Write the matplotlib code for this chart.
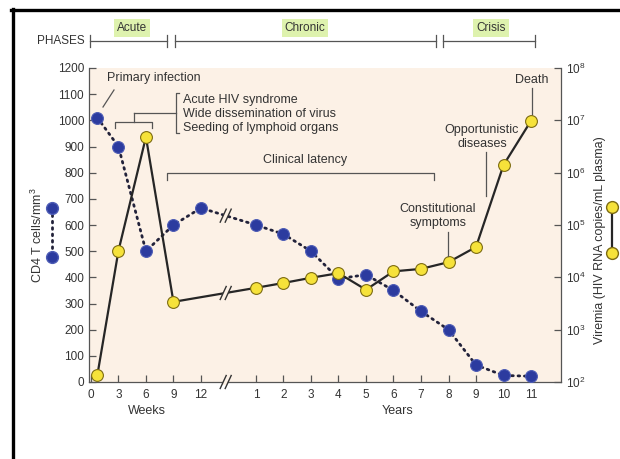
"""HIV 感染自然病程：CD4 T 细胞与病毒血症"""

import matplotlib

matplotlib.use("Agg")
import matplotlib.pyplot as plt
import numpy as np
from matplotlib.lines import Line2D
from matplotlib.patches import Polygon
from matplotlib.transforms import ScaledTranslation

plt.rcParams["font.family"] = ["Liberation Sans", "DejaVu Sans"]
plt.rcParams["mathtext.fontset"] = "custom"
plt.rcParams["mathtext.rm"] = "Liberation Sans"

# ---- data -------------------------------------------------------------
week_ticks = [0, 3, 6, 9, 12]
year_ticks = [1, 2, 3, 4, 5, 6, 7, 8, 9, 10, 11]

cd4_weeks = [0.7, 3, 6, 9, 12]
cd4_week_counts = [1010, 900, 500, 600, 665]
cd4_years = [1, 2, 3, 4, 5, 6, 7, 8, 9, 10, 11]
cd4_year_counts = [600, 565, 500, 395, 410, 350, 270, 200, 65, 25, 22]

viremia_weeks = [0.7, 3, 6, 9]
viremia_week_copies = [1.35e2, 3.2e4, 4.8e6, 3.4e3]
viremia_years = [1, 2, 3, 4, 5, 6, 7, 8, 9, 10, 11]
viremia_year_copies = [6.3e3, 7.8e3, 9.8e3, 1.2e4, 5.8e3, 1.3e4, 1.45e4,
                       1.95e4, 3.8e4, 1.4e6, 9.8e6]

phases = ["Acute", "Chronic", "Crisis"]

# ---- style --------------------------------------------------------------
W, H = 620, 459
YEAR_OFFSET = 5.0          # 周 -> 年 的断轴偏移
BREAK_AT = 4.9
BG = "#fcf1e6"
TXT = "#333333"
BLUE, BLUE_EDGE = "#2c3b9f", "#4d5cb5"
YEL, YEL_EDGE = "#f6e23a", "#7d6c12"
DOT_LINE = "#22223a"

fig = plt.figure(figsize=(W / 100, H / 100), dpi=100)


def P(x, y):
    """像素坐标 -> figure 坐标"""
    return x / W, 1 - y / H


def axis_pos(weeks, years):
    return [w / 3 for w in weeks] + [YEAR_OFFSET + y for y in years]


def fig_line(xs, ys, **kw):
    pts = [P(x, y) for x, y in zip(xs, ys)]
    kw.setdefault("color", "#555555")
    kw.setdefault("lw", 0.9)
    fig.add_artist(Line2D([p[0] for p in pts], [p[1] for p in pts],
                          transform=fig.transFigure, **kw))


def fig_text(x, y, s, **kw):
    kw.setdefault("fontsize", 9)
    kw.setdefault("color", TXT)
    kw.setdefault("va", "center")
    fig.text(*P(x, y), s, **kw)


def break_mark(ax, x, y, bg):
    """在 (x, y) 处画断轴符号 //"""
    trans = fig.dpi_scale_trans + ScaledTranslation(x, y, ax.transData)
    w, h, gap, hg = 0.03, 0.065, 0.025, 0.03
    s = w * hg / h
    ax.add_artist(Polygon([(-gap - s, -hg), (gap - s, -hg), (gap + s, hg), (-gap + s, hg)],
                          closed=True, transform=trans, fc=bg, ec="none",
                          zorder=6, clip_on=False))
    for dx in (-gap, gap):
        ax.add_artist(Line2D([dx - w, dx + w], [-h, h], transform=trans,
                             color="#333333", lw=1.0, zorder=7, clip_on=False))


l, r, b, t = 89, 561, 382, 68
ax = fig.add_axes([l / W, 1 - b / H, (r - l) / W, (b - t) / H])
ax.set_facecolor(BG)
ax2 = ax.twinx()

cd4_x = axis_pos(cd4_weeks, cd4_years)
cd4_y = cd4_week_counts + cd4_year_counts
vir_x = axis_pos(viremia_weeks, viremia_years)
vir_y = viremia_week_copies + viremia_year_copies

ax.plot(cd4_x, cd4_y, color=DOT_LINE, lw=2.0, ls=(0, (0.6, 1.7)),
        dash_capstyle="round", zorder=3)
ax.plot(cd4_x, cd4_y, ls="none", marker="o", ms=8.5, mfc=BLUE, mec=BLUE_EDGE,
        mew=0.8, zorder=4)

ax2.plot(vir_x, vir_y, color="#262626", lw=1.6, zorder=3)
ax2.plot(vir_x, vir_y, ls="none", marker="o", ms=8.5, mfc=YEL, mec=YEL_EDGE,
         mew=0.8, zorder=4)

ax.set_xlim(-0.07, 17.09)
ax.set_ylim(0, 1200)
ax2.set_yscale("log")
ax2.set_ylim(1e2, 1e8)

# 断轴标记
break_mark(ax, BREAK_AT, np.interp(BREAK_AT, cd4_x, cd4_y), BG)
vir_break = 10 ** np.interp(BREAK_AT, vir_x, np.log10(vir_y))
break_mark(ax2, BREAK_AT, vir_break, BG)
break_mark(ax, BREAK_AT, 0, BG)

# 坐标轴
ax.set_xticks(axis_pos(week_ticks, year_ticks))
ax.set_xticklabels([str(v) for v in week_ticks + year_ticks])
ax.set_yticks(np.arange(0, 1201, 100))
ax2.set_yticks([10.0 ** k for k in range(2, 9)])
ax2.set_yticklabels([rf"$10^{{{k}}}$" for k in range(2, 9)])
ax2.minorticks_off()

for a in (ax, ax2):
    a.tick_params(direction="in", length=5, width=0.9, colors="#555555",
                  labelcolor=TXT, labelsize=8.5)
ax.tick_params(axis="x", pad=5)
ax.spines["top"].set_visible(False)
ax.spines["right"].set_visible(False)
for side in ("top", "bottom", "left"):
    ax2.spines[side].set_visible(False)
for sp in (ax.spines["left"], ax.spines["bottom"], ax2.spines["right"]):
    sp.set_color("#555555")
    sp.set_linewidth(0.9)

fig_text(147, 411, "Weeks", ha="center")
fig_text(398, 411, "Years", ha="center")

# 轴标题与图例符号
fig_text(37, 235, "CD4 T cells/mm$^3$", ha="center", rotation=90)
fig_text(600, 240, "Viremia (HIV RNA copies/mL plasma)", ha="center", rotation=90)
fig_line([52, 52], [208, 257], color=DOT_LINE, lw=2.0, ls=(0, (0.6, 1.7)),
         dash_capstyle="round", marker="o", ms=8.5, mfc=BLUE, mec=BLUE_EDGE)
fig_line([612, 612], [207, 253], color="#262626", lw=1.6, marker="o", ms=8.5,
         mfc=YEL, mec=YEL_EDGE)

# PHASES 条
fig_text(85, 41, "PHASES", ha="right", fontsize=8.5)
for (x0, x1), name, cx in zip([(90, 167), (175, 436), (443, 535)], phases,
                              [132, 305, 491]):
    fig_line([x0, x1], [41, 41], color="#555555", lw=0.9)
    fig_line([x0, x0], [35, 47], color="#555555", lw=0.9)
    fig_line([x1, x1], [35, 47], color="#555555", lw=0.9)
    fig_text(cx, 28, name, ha="center", fontsize=8.5,
             bbox=dict(fc="#def2ae", ec="none", pad=2))

# 注释
fig_text(107, 78, "Primary infection")
fig_line([103, 114], [107, 90])
fig_text(183, 114, "Acute HIV syndrome\nWide dissemination of virus\nSeeding of lymphoid organs",
         linespacing=1.25)
fig_line([179, 176, 176, 179], [93, 93, 133, 133])
fig_line([134, 176], [113, 113])
fig_line([134, 134], [113, 122])
fig_line([115, 115, 152, 152], [128, 122, 122, 128])

fig_text(305, 160, "Clinical latency", ha="center")
fig_line([167, 167, 434, 434], [180, 173, 173, 180])

fig_text(438, 216, "Constitutional\nsymptoms", ha="center", multialignment="center",
         linespacing=1.15)
fig_line([448, 448], [232, 256])

fig_text(482, 137, "Opportunistic\ndiseases", ha="center", multialignment="center",
         linespacing=1.15)
fig_line([486, 486], [152, 196])

fig_text(532, 80, "Death", ha="center")
fig_line([532, 532], [88, 114])

# 外框
fig_line([11, W], [9.5, 9.5], color="black", lw=2.4)
fig_line([12.5, 12.5], [8.5, H], color="black", lw=2.4)

fig.savefig("out.png", dpi=100)
